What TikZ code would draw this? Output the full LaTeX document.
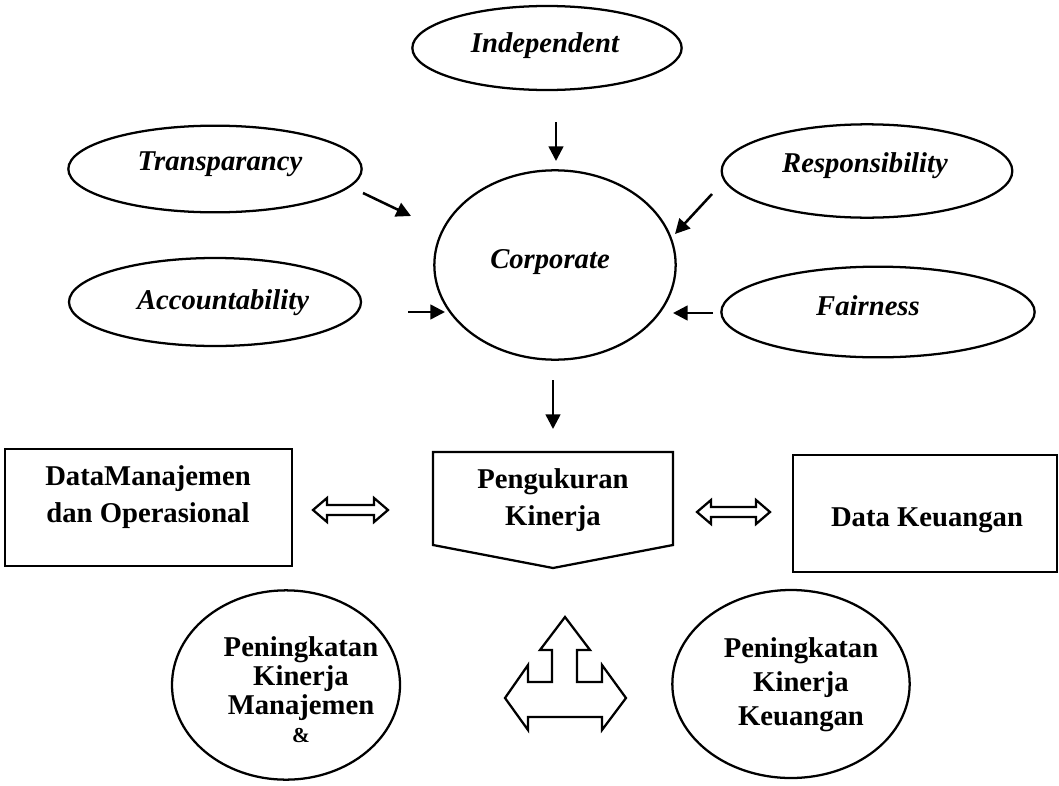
\documentclass[tikz,border=0pt]{standalone}
\usepackage{fontspec}
\setmainfont{Liberation Serif}
\usetikzlibrary{shapes.geometric,arrows.meta}
\begin{document}
\begin{tikzpicture}[x=0.75pt,y=-0.75pt,
  ell/.style={draw,ellipse,line width=1.7pt,inner sep=0pt},
  box/.style={draw,line width=1.7pt},
  itxt/.style={font=\fontsize{21.5}{25}\selectfont\bfseries\itshape,inner sep=0pt},
  btxt/.style={font=\fontsize{21.5}{25}\selectfont\bfseries,align=center,inner sep=0pt},
  arr/.style={line width=1.9pt,-{Triangle[length=11pt,width=11pt]}},
  hollow/.style={draw,line width=1.7pt,line join=miter,fill=white}]
\useasboundingbox (0,0) rectangle (1059,785);

% top ellipses
\node[ell,minimum width=202pt,minimum height=63pt] (indE) at (547,48) {};
\node[itxt] (ind) at (545,46) {Independent};
\node[ell,minimum width=220pt,minimum height=65pt] (traE) at (215,169) {};
\node[itxt] (tra) at (220,164) {Transparancy};
\node[ell,minimum width=218pt,minimum height=70pt] (resE) at (867,171) {};
\node[itxt] (res) at (865,166) {Responsibility};
\node[ell,minimum width=219pt,minimum height=66pt] (accE) at (215,302) {};
\node[itxt] (acc) at (223,303) {Accountability};
\node[ell,minimum width=235pt,minimum height=68pt] (faiE) at (878,312) {};
\node[itxt] (fai) at (868,306) {Fairness};
\node[ell,minimum width=181pt,minimum height=142pt] (corE) at (555,265) {};
\node[itxt] (cor) at (550,262) {Corporate};

% arrows
\coordinate (a1s) at (556,122); \coordinate (a1e) at (556,161);
\coordinate (a2s) at (363,193); \coordinate (a2e) at (411,216);
\coordinate (a3s) at (712,194); \coordinate (a3e) at (675,234);
\coordinate (a4s) at (408,312); \coordinate (a4e) at (445,312);
\coordinate (a5s) at (713,313); \coordinate (a5e) at (673,313);
\coordinate (a6s) at (553,380); \coordinate (a6e) at (553,429);
\draw[arr] (a1s) -- (a1e);
\draw[arr] (a2s) -- (a2e);
\draw[arr] (a3s) -- (a3e);
\draw[arr] (a4s) -- (a4e);
\draw[arr] (a5s) -- (a5e);
\draw[arr] (a6s) -- (a6e);

% middle row
\draw[box] (5,449) rectangle (292,566);
\node[btxt,font=\fontsize{21.5}{28}\selectfont\bfseries] (dmo) at (148,497) {DataManajemen\\dan Operasional};
\draw[box,line join=miter] (433,452) -- (673,452) -- (673,545) -- (553,568) -- (433,545) -- cycle;
\node[btxt,font=\fontsize{21.5}{28}\selectfont\bfseries] (pk) at (553,500) {Pengukuran\\Kinerja};
\draw[box] (793,455) rectangle (1057,572);
\node[btxt] (dk) at (927,520) {Data Keuangan};

% double arrows
\draw[hollow] (313,510) -- (327,498) -- (327,505) -- (374,505) -- (374,498) -- (388,510)
  -- (374,522) -- (374,515) -- (327,515) -- (327,522) -- cycle;
\draw[hollow] (697,512) -- (711,500) -- (711,507) -- (756,507) -- (756,500) -- (770,512)
  -- (756,524) -- (756,517) -- (711,517) -- (711,524) -- cycle;

% bottom ellipses
\node[ell,minimum width=171pt,minimum height=142pt] (pkmE) at (286,685) {};
\node[btxt,font=\fontsize{21.5}{21.5}\selectfont\bfseries] (pkm) at (301,690) {Peningkatan\\Kinerja\\Manajemen\\{\fontsize{16}{16}\selectfont\&}};
\node[ell,minimum width=178pt,minimum height=141pt] (pkkE) at (791,684) {};
\node[btxt,font=\fontsize{21.5}{25.5}\selectfont\bfseries] (pkk) at (801,685) {Peningkatan\\Kinerja\\Keuangan};

% three-way arrow
\draw[hollow] (565,617) -- (590,650) -- (577,650) -- (577,682) -- (602,682) -- (602,665)
  -- (626,698) -- (602,730) -- (602,717) -- (528,717) -- (528,730) -- (505,698)
  -- (528,665) -- (528,682) -- (552,682) -- (552,650) -- (540,650) -- cycle;
\end{tikzpicture}
\end{document}
